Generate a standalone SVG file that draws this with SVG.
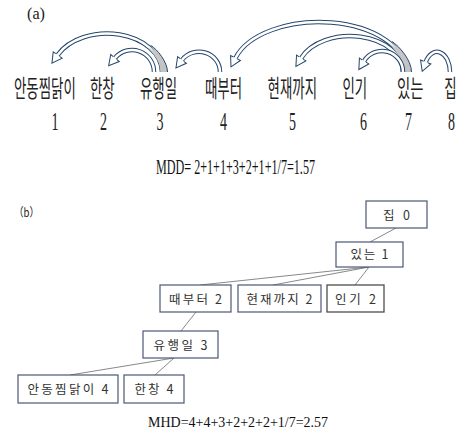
<svg xmlns="http://www.w3.org/2000/svg" width="459" height="431" viewBox="0 0 459 431">
<style>
.bg{fill:#ffffff}
.word{font-family:"Noto Sans CJK KR","Noto Sans",sans-serif;font-size:24px;fill:#222}
.num{font-family:"Liberation Serif",serif;font-size:25px;fill:#222}
.formula{font-family:"Liberation Serif",serif;fill:#111}
.lbl{font-family:"Liberation Serif",serif;fill:#222}
.shaftD{fill:none;stroke:#24456b;stroke-width:4.5}
.shaftW{fill:none;stroke:#ffffff;stroke-width:2.5}
.wedge{stroke:none}
.wedgeEdge{fill:none;stroke:#24456b;stroke-width:1}
.box{fill:#ffffff;stroke:#4a5875;stroke-width:1.2}
.box2{fill:#ffffff;stroke:#4d4d4d;stroke-width:1.3}
.btxt{font-family:"Noto Sans CJK KR","Noto Sans",sans-serif;font-size:12.5px;fill:#333;text-anchor:middle}
.edge{stroke:#6a6a6a;stroke-width:0.8;fill:none}
</style>
<defs>
<marker id="head" markerUnits="userSpaceOnUse" viewBox="0 0 12 12" markerWidth="12" markerHeight="12" refX="0" refY="6" orient="auto" overflow="visible">
<path d="M0,3.75 L0,0.5 L10,6 L0,11.5 L0,8.25" fill="#ffffff" stroke="#24456b" stroke-width="1" stroke-linejoin="miter"/>
</marker>
<linearGradient id="g1" gradientUnits="userSpaceOnUse" x1="164" y1="72" x2="149" y2="46">
<stop offset="0" stop-color="#c2c2c2"/>
<stop offset="0.75" stop-color="#c8c8c8"/>
<stop offset="1" stop-color="#c8c8c8" stop-opacity="0"/>
</linearGradient>
<linearGradient id="g4" gradientUnits="userSpaceOnUse" x1="408" y1="72" x2="390" y2="42">
<stop offset="0" stop-color="#c2c2c2"/>
<stop offset="0.75" stop-color="#c8c8c8"/>
<stop offset="1" stop-color="#c8c8c8" stop-opacity="0"/>
</linearGradient>
</defs>
<rect class="bg" x="0" y="0" width="459" height="431"/>

<g id="label-a"><text class="lbl" x="27" y="19" font-size="17" textLength="18" lengthAdjust="spacingAndGlyphs">(a)</text></g>

<g id="connectors-a">
<path class="shaftD" d="M162,72 A55,38.5 0 0 0 57.7,55"/>
<path class="shaftW" d="M162,72 A55,38.5 0 0 0 57.7,55" marker-end="url(#head)"/>
<path class="wedge" fill="url(#g1)" d="M160.5,72 L167.5,72 C167.5,62 157,49 150.7,45.4 L148.1,48.5 C154,53.5 160.5,62 160.5,72 Z"/>
<path class="wedgeEdge" d="M167.5,72 C167.5,62 157,49 150.7,45.4"/>

<path class="shaftD" d="M154,72 A22,22 0 0 0 115,58"/>
<path class="shaftW" d="M154,72 A22,22 0 0 0 115,58" marker-end="url(#head)"/>

<path class="shaftD" d="M220,72 A21,20 0 0 0 182,60"/>
<path class="shaftW" d="M220,72 A21,20 0 0 0 182,60" marker-end="url(#head)"/>

<path class="shaftD" d="M406,72 A87,50 0 0 0 235.5,58"/>
<path class="shaftW" d="M406,72 A87,50 0 0 0 235.5,58" marker-end="url(#head)"/>

<path class="shaftD" d="M403,72 A53,36 0 0 0 301.2,58"/>
<path class="shaftW" d="M403,72 A53,36 0 0 0 301.2,58" marker-end="url(#head)"/>

<path class="wedge" fill="url(#g4)" d="M404.5,72 L411.5,72 C411.5,60 399,46 391.9,41.4 L389.3,44.5 C396,50.5 404.5,62 404.5,72 Z"/>
<path class="wedgeEdge" d="M411.5,72 C411.5,60 399,46 391.9,41.4"/>

<path class="shaftD" d="M403,72 A21,21 0 0 0 364.1,61"/>
<path class="shaftW" d="M403,72 A21,21 0 0 0 364.1,61" marker-end="url(#head)"/>

<path class="shaftD" d="M450,72 A13,20 0 0 0 425.7,62"/>
<path class="shaftW" d="M450,72 A13,20 0 0 0 425.7,62" marker-end="url(#head)"/>
</g>

<g id="words">
<text class="word" transform="translate(14,97) scale(0.56,1)">안동찜닭이</text>
<text class="word" transform="translate(90,97) scale(0.56,1)">한창</text>
<text class="word" transform="translate(140,97) scale(0.56,1)">유행일</text>
<text class="word" transform="translate(205,97) scale(0.56,1)">때부터</text>
<text class="word" transform="translate(267.6,97) scale(0.56,1)">현재까지</text>
<text class="word" transform="translate(342.5,97) scale(0.56,1)">인기</text>
<text class="word" transform="translate(397,97) scale(0.6,1)">있는</text>
<text class="word" transform="translate(444.3,97) scale(0.56,1)">집</text>
</g>

<g id="numbers">
<text class="num" x="51.5" y="130" textLength="7" lengthAdjust="spacingAndGlyphs">1</text>
<text class="num" x="100" y="130" textLength="7" lengthAdjust="spacingAndGlyphs">2</text>
<text class="num" x="156.5" y="130" textLength="7" lengthAdjust="spacingAndGlyphs">3</text>
<text class="num" x="220" y="130" textLength="7" lengthAdjust="spacingAndGlyphs">4</text>
<text class="num" x="289" y="130" textLength="7" lengthAdjust="spacingAndGlyphs">5</text>
<text class="num" x="360" y="130" textLength="7" lengthAdjust="spacingAndGlyphs">6</text>
<text class="num" x="405" y="130" textLength="7" lengthAdjust="spacingAndGlyphs">7</text>
<text class="num" x="448" y="130" textLength="7" lengthAdjust="spacingAndGlyphs">8</text>
</g>

<g id="mdd"><text class="formula" x="156" y="174" font-size="22" textLength="159" lengthAdjust="spacingAndGlyphs">MDD= 2+1+1+3+2+1+1/7=1.57</text></g>

<g id="label-b"><text x="14" y="217" font-family="Noto Sans CJK KR, sans-serif" font-size="12" fill="#222" textLength="25" lengthAdjust="spacingAndGlyphs">（b）</text></g>

<g id="connectors-b">
<line class="edge" x1="396" y1="228" x2="370" y2="242"/>
<line class="edge" x1="369" y1="267" x2="200" y2="285"/>
<line class="edge" x1="369" y1="267" x2="273" y2="285"/>
<line class="edge" x1="369" y1="267" x2="355" y2="285"/>
<line class="edge" x1="196" y1="312" x2="181" y2="331"/>
<line class="edge" x1="174" y1="358" x2="70" y2="375"/>
<line class="edge" x1="174" y1="358" x2="155" y2="375"/>
</g>

<g id="n-jip"><rect class="box" x="366" y="201" width="61" height="27"/><text class="btxt" x="396.5" y="219.5" textLength="27">집 0</text></g>
<g id="n-itneun"><rect class="box" x="336" y="242" width="67" height="25"/><text class="btxt" x="369.5" y="259" textLength="38">있는 1</text></g>
<g id="n-ttaebuteo"><rect class="box" x="160" y="285" width="71" height="27"/><text class="btxt" x="195.5" y="303.5" textLength="53">때부터 2</text></g>
<g id="n-hyeonjae"><rect class="box" x="238" y="285" width="83" height="27"/><text class="btxt" x="279.5" y="303.5" textLength="66">현재까지 2</text></g>
<g id="n-ingi"><rect class="box2" x="327" y="285" width="57" height="27"/><text class="btxt" x="355.5" y="303.5" textLength="41">인기 2</text></g>
<g id="n-yuhaeng"><rect class="box" x="143" y="331" width="75" height="27"/><text class="btxt" x="180.5" y="349.5" textLength="54">유행일 3</text></g>
<g id="n-andong"><rect class="box" x="18" y="375" width="100" height="28"/><text class="btxt" x="68" y="394" textLength="81">안동찜닭이 4</text></g>
<g id="n-hanchang"><rect class="box" x="124" y="375" width="60" height="28"/><text class="btxt" x="154" y="394" textLength="39">한창 4</text></g>

<g id="mhd"><text class="formula" x="148" y="427" font-size="15" textLength="180" lengthAdjust="spacingAndGlyphs">MHD=4+4+3+2+2+2+1/7=2.57</text></g>
</svg>
